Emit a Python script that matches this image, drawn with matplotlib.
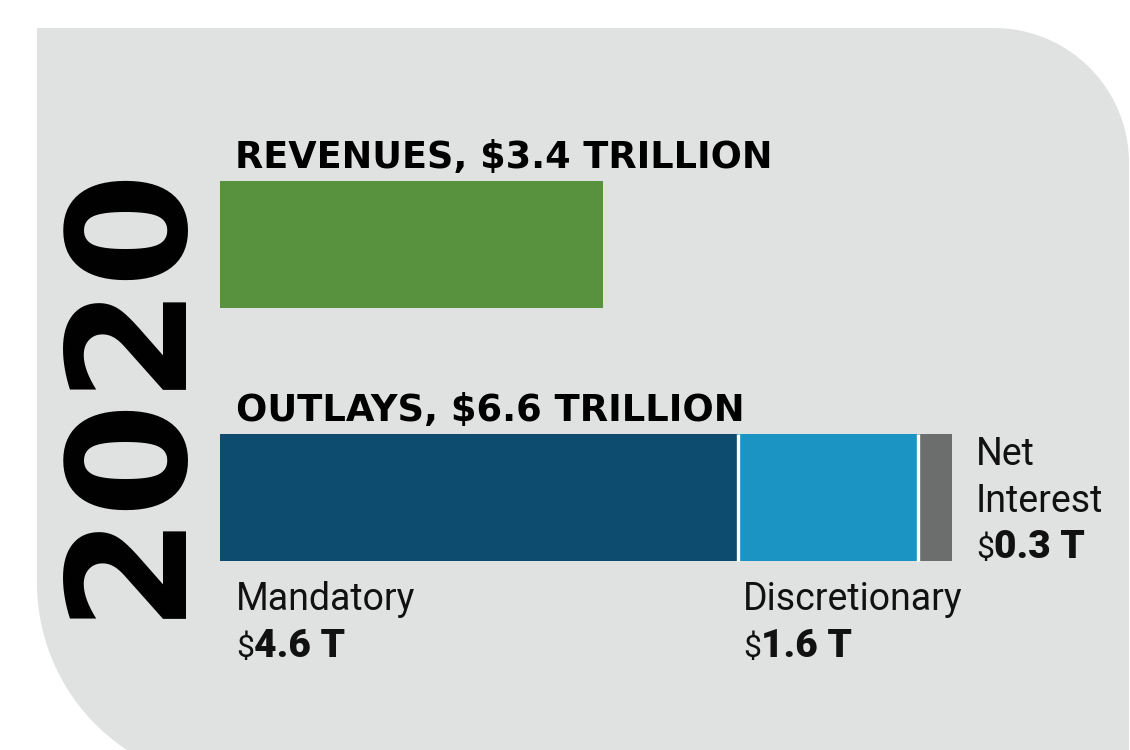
import numpy as np
import matplotlib
matplotlib.use("Agg")
from matplotlib import pyplot as plt
from matplotlib.patches import Polygon

# values in trillions of dollars
revenue = 3.4
outlay_names = ["Mandatory", "Discretionary", "Net\nInterest"]
outlay_values = [4.6, 1.6, 0.3]
outlay_labels = ["4.6 T", "1.6 T", "0.3 T"]
outlay_total = 6.6
year = "2020"

green = "#58923F"
outlay_colors = ["#0E4C6F", "#1B94C4", "#6C6E6E"]
panel = "#E0E1E1"

narrow = ["Roboto", "DejaVu Sans"]
heavy = ["DejaVu Sans"]

W, H = 1130, 750
fig = plt.figure(figsize=(W / 100, H / 100), dpi=100)
fig.patch.set_facecolor("white")

# background axes in pixel units
bg = fig.add_axes([0, 0, 1, 1])
bg.set_xlim(0, W)
bg.set_ylim(H, 0)
bg.axis("off")


def arc(cx, cy, r, a0, a1, n=40):
    t = np.radians(np.linspace(a0, a1, n))
    return np.column_stack([cx + r * np.cos(t), cy - r * np.sin(t)])


# grey panel: square top-left, rounded top-right and bottom-left
left, top, right, bottom = 37, 28, 1129, 783
r1, r2 = 135, 200
pts = [(left, top), (right - r1, top)]
pts += list(arc(right - r1, top + r1, r1, 90, 0))
pts += [(right, bottom), (left + r2, bottom)]
pts += list(arc(left + r2, bottom - r2, r2, 270, 180))
bg.add_patch(Polygon(pts, closed=True, facecolor=panel, edgecolor="none", zorder=0))

# big year
bg.text(209, 388, year, rotation=90, ha="right", va="center", fontsize=119,
        fontweight="bold", family=heavy, color="black")

# headlines
bg.text(235, 168, f"REVENUES, ${revenue} TRILLION", fontsize=26.4, fontweight="bold",
        family=heavy, color="black", va="baseline")
bg.text(236, 421, f"OUTLAYS, ${outlay_total} TRILLION", fontsize=26.6, fontweight="bold",
        family=heavy, color="black", va="baseline")

# bar axes: x in trillions, 112.6 px per trillion
px_per_t = 112.6
x0 = 220
ax = fig.add_axes([x0 / W, 1 - 624 / H, 8 * px_per_t / W, 506 / H])
ax.set_xlim(0, 8)
ax.set_ylim(1.5, -0.5)
ax.axis("off")
ax.patch.set_alpha(0)

bar_h = 127 / 253
ax.barh(0, revenue, height=bar_h, left=0, color=green, linewidth=0)
starts = np.concatenate([[0], np.cumsum(outlay_values)[:-1]])
ax.barh([1] * len(outlay_values), outlay_values, height=bar_h, left=starts,
        color=outlay_colors, linewidth=0)
# white separators between outlay pieces
ax.vlines(starts[1:], 1 - bar_h / 2, 1 + bar_h / 2, color="white", linewidth=2.4)

# segment labels (pixel coordinates on background axes)
txt = "#111111"
label_pos = [(236, 610), (743, 610)]
for i, (lx, ly) in enumerate(label_pos):
    bg.text(lx, ly, outlay_names[i], fontsize=27, family=narrow, color=txt,
            va="baseline")
    d = bg.text(lx, ly + 47, "$", fontsize=23, family=narrow, color=txt,
                va="baseline")
    bg.annotate(outlay_labels[i], xy=(1, ly + 47), xycoords=(d, "data"),
                fontsize=28, fontweight="black", family=narrow, color=txt,
                va="baseline", ha="left")

nx = 976
bg.text(nx, 465, "Net", fontsize=27, family=narrow, color=txt, va="baseline")
bg.text(nx, 512, "Interest", fontsize=27, family=narrow, color=txt, va="baseline")
d = bg.text(nx, 558, "$", fontsize=23, family=narrow, color=txt, va="baseline")
bg.annotate(outlay_labels[2], xy=(1, 558), xycoords=(d, "data"), fontsize=28,
            fontweight="black", family=narrow, color=txt, va="baseline", ha="left")

fig.savefig("out.png", dpi=100)
